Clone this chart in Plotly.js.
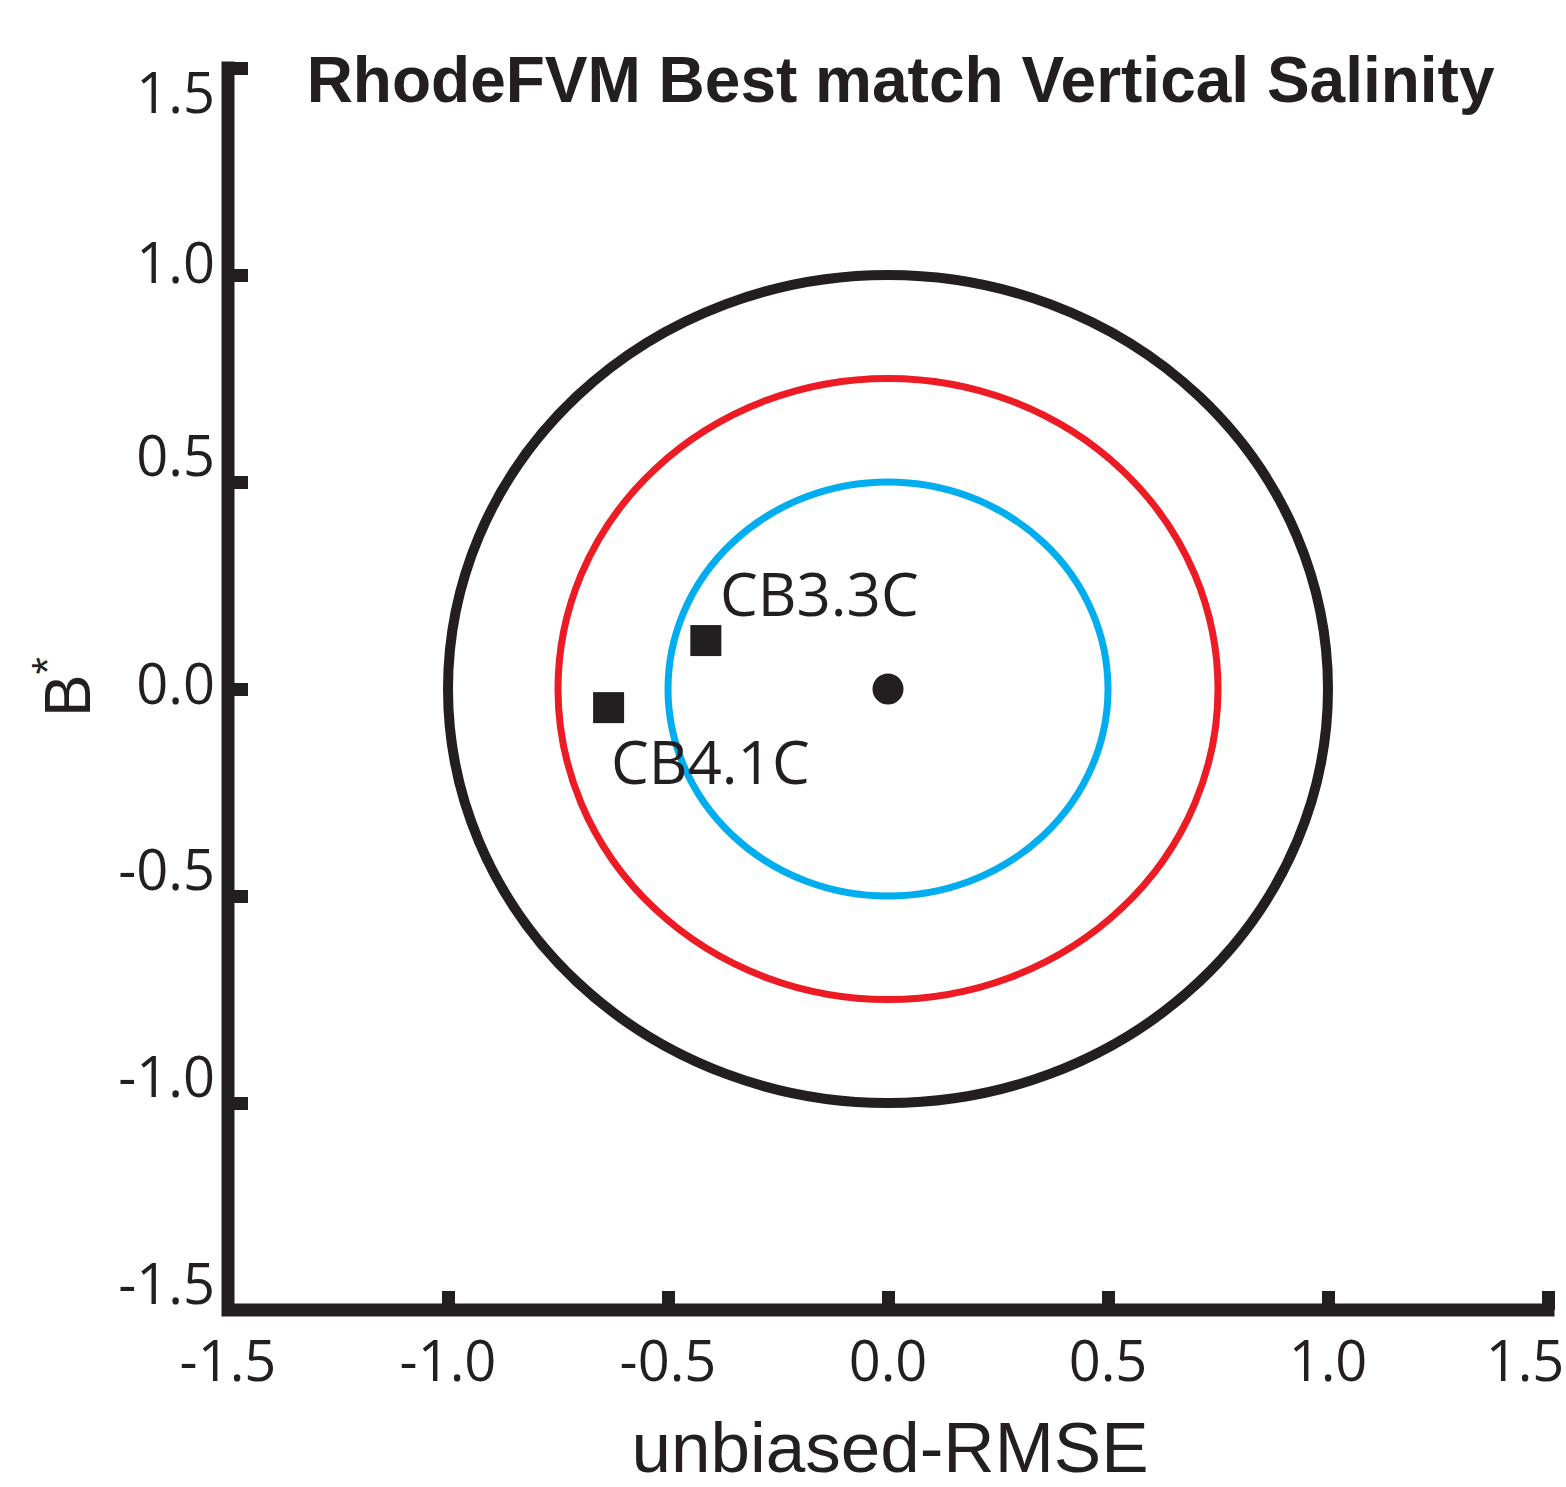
<!DOCTYPE html>
<html>
<head>
<meta charset="utf-8">
<script src="https://cdn.plot.ly/plotly-3.0.1.min.js"></script>
<style>
html,body{margin:0;padding:0;background:#ffffff;}
#chart{width:1566px;height:1487px;}
</style>
</head>
<body>
<div id="chart"></div>
<script>
// ---------------- data ----------------
const stationNames = ['CB3.3C', 'CB4.1C'];
const stationX = [-0.414, -0.635];   // unbiased-RMSE
const stationY = [0.117, -0.045];    // B*
const originX = [0];
const originY = [0];
const circleRadii = [1.0, 0.75, 0.5];
const tickVals = [-1.5, -1.0, -0.5, 0.0, 0.5, 1.0, 1.5];
const tickText = ['-1.5', '-1.0', '-0.5', '0.0', '0.5', '1.0', '1.5'];
const chartTitle = 'RhodeFVM Best match Vertical Salinity';
const xTitle = 'unbiased-RMSE';
const yTitle = 'B<sup>*</sup>';

// ---------------- styles / layout ----------------
const INK = '#231f20';
const circleColors = ['#231f20', '#ed1c24', '#00aeef'];
const circleWidths = [10, 7, 7];
const labelOffsets = [{xshift: 12, yshift: 48}, {xshift: 0, yshift: -53}];
const tickFont = {family: 'Open Sans', size: 56, color: INK};
const W = 1566, H = 1487;
const AXW = 13;          // axis line width
const EXTRA = 4;         // px of room beyond 1.5 so the end ticks are kept
const pxPerX = 440, pxPerY = 414;
const plotW = 3 * pxPerX + EXTRA, plotH = 3 * pxPerY + EXTRA;
const M = {l: 228, b: 177};
M.r = W - M.l - plotW;
M.t = H - M.b - plotH;
const xMax = 1.5 + EXTRA / pxPerX, yMax = 1.5 + EXTRA / pxPerY;

// label shifts along the axis (px, screen direction); reference places some by hand
const yDefaultShift = -26;
const ySpecialShift = {'0.0': -5, '1.0': -12, '1.5': 25};
const xDefaultShift = 0;
const xSpecialShift = {'1.5': -23};

const traces = [
  {
    type: 'scatter', mode: 'markers', name: 'stations',
    x: stationX, y: stationY, text: stationNames,
    marker: {symbol: 'square', size: 31, color: INK, line: {width: 0}},
    showlegend: false, hoverinfo: 'text+x+y'
  },
  {
    type: 'scatter', mode: 'markers', name: 'reference',
    x: originX, y: originY,
    marker: {symbol: 'circle', size: 31, color: INK, line: {width: 0}},
    showlegend: false
  }
];

const shapes = circleRadii.map((r, i) => ({
  type: 'circle', xref: 'x', yref: 'y', layer: 'below',
  x0: -r, x1: r, y0: -r, y1: r,
  line: {color: circleColors[i], width: circleWidths[i]}
}));
// L-shaped axis lines (left + bottom) centred on the -1.5 edges (paper refs: not clipped)
const xEnd = (3 * pxPerX + AXW / 2) / plotW;
const yEnd = (3 * pxPerY + AXW / 2) / plotH;
shapes.push({
  type: 'path', xref: 'paper', yref: 'paper', layer: 'above',
  path: `M0,${yEnd} L0,0 L${xEnd},0`,
  line: {color: INK, width: AXW}
});

const annotations = stationNames.map((n, i) => ({
  x: stationX[i], y: stationY[i], xref: 'x', yref: 'y',
  text: n, showarrow: false, xanchor: 'left', yanchor: 'middle',
  xshift: labelOffsets[i].xshift, yshift: labelOffsets[i].yshift,
  font: {family: 'Open Sans', size: 60, color: INK}
}));

function baseAxis(isX) {
  return {
    range: isX ? [-1.5, xMax] : [-1.5, yMax],
    showgrid: false, zeroline: false, showline: false,
    tickmode: 'array', tickfont: tickFont, fixedrange: true
  };
}

const layout = {
  width: W, height: H,
  margin: M,
  paper_bgcolor: '#ffffff', plot_bgcolor: '#ffffff',
  showlegend: false,
  title: {
    text: chartTitle,
    font: {family: 'Liberation Sans', size: 64, weight: 'bold', color: INK},
    xref: 'paper', x: 0.508, xanchor: 'center',
    yref: 'container', y: 1 - 80 / H, yanchor: 'middle'
  },
  // main axes: tick marks + titles
  xaxis: Object.assign(baseAxis(true), {
    tickvals: tickVals, showticklabels: false,
    ticks: 'inside', ticklen: 19, tickwidth: 13, tickcolor: INK,
    title: {text: xTitle, font: {family: 'Liberation Sans', size: 71, color: INK}, standoff: 124}
  }),
  yaxis: Object.assign(baseAxis(false), {
    tickvals: tickVals, showticklabels: false,
    ticks: 'inside', ticklen: 20, tickwidth: 13, tickcolor: INK,
    title: {text: yTitle, font: {family: 'Liberation Sans', size: 64, color: INK}, standoff: 115}
  }),
  shapes: shapes, annotations: annotations
};

// overlay axes carrying the tick labels, grouped by their shift
function groupLabels(special, def) {
  const groups = {};
  tickText.forEach((t, i) => {
    const s = (t in special) ? special[t] : def;
    (groups[s] = groups[s] || {vals: [], text: []});
    groups[s].vals.push(tickVals[i]);
    groups[s].text.push(t);
  });
  return groups;
}
let yn = 2;
const yGroups = groupLabels(ySpecialShift, yDefaultShift);
Object.keys(yGroups).forEach(s => {
  const id = 'y' + yn;
  layout['yaxis' + yn] = Object.assign(baseAxis(false), {
    overlaying: 'y', anchor: 'x', side: 'left',
    tickvals: yGroups[s].vals, ticktext: yGroups[s].text, ticks: '',
    ticklabelstandoff: 12, ticklabelshift: Number(s)
  });
  traces.push({type: 'scatter', mode: 'markers', x: [], y: [], xaxis: 'x', yaxis: id,
               showlegend: false, hoverinfo: 'skip'});
  yn++;
});
let xn = 2;
const xGroups = groupLabels(xSpecialShift, xDefaultShift);
Object.keys(xGroups).forEach(s => {
  const id = 'x' + xn;
  layout['xaxis' + xn] = Object.assign(baseAxis(true), {
    overlaying: 'x', anchor: 'y', side: 'bottom',
    tickvals: xGroups[s].vals, ticktext: xGroups[s].text, ticks: '',
    ticklabelstandoff: 14, ticklabelshift: Number(s)
  });
  traces.push({type: 'scatter', mode: 'markers', x: [], y: [], xaxis: id, yaxis: 'y',
               showlegend: false, hoverinfo: 'skip'});
  xn++;
});

Plotly.newPlot('chart', traces, layout, {staticPlot: true, displayModeBar: false});
</script>
</body>
</html>
